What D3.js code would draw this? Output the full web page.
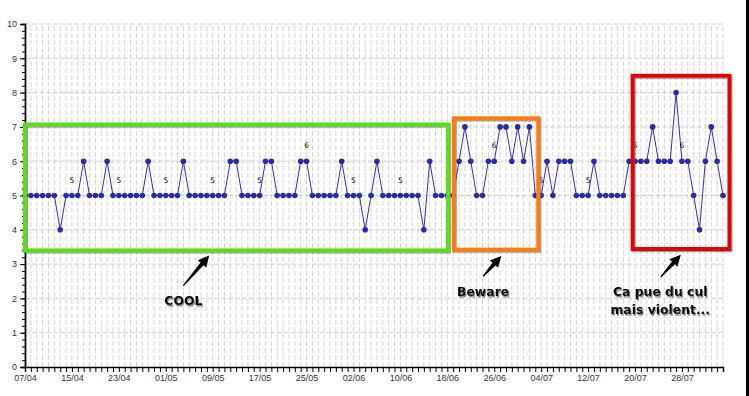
<!DOCTYPE html>
<html>
<head>
<meta charset="utf-8">
<script src="https://cdn.jsdelivr.net/npm/d3@7"></script>
<style>
body { margin: 0; background: #ffffff; }
</style>
</head>
<body>
<div class="chart"></div>
<script>
var w = 749;
var h = 396;

// daily values, starting 07/04
var startDay = new Date(2012, 3, 7);
var values = [
	5, 5, 5, 5, 5, 5, 4, 5, 5, 5, 6, 5, 5, 5, 6, 5, 5, 5, 5, 5,
	5, 6, 5, 5, 5, 5, 5, 6, 5, 5, 5, 5, 5, 5, 5, 6, 6, 5, 5, 5,
	5, 6, 6, 5, 5, 5, 5, 6, 6, 5, 5, 5, 5, 5, 6, 5, 5, 5, 4, 5,
	6, 5, 5, 5, 5, 5, 5, 5, 4, 6, 5, 5, 5, 5, 6, 7, 6, 5, 5, 6,
	6, 7, 7, 6, 7, 6, 7, 5, 5, 6, 5, 6, 6, 6, 5, 5, 5, 6, 5, 5,
	5, 5, 5, 6, 6, 6, 6, 7, 6, 6, 6, 8, 6, 6, 5, 4, 6, 7, 6, 5
];
var yTicks = [0, 1, 2, 3, 4, 5, 6, 7, 8, 9, 10];
var labelEvery = 8;

// annotation boxes, in days / values
var boxNames = ["cool", "beware", "violent"];
var boxDays = [[0, 72.1], [73.1, 87.5], [103.6, 120.1]];
var boxValues = [[3.4, 7.07], [3.42, 7.25], [3.44, 8.49]];
var boxColors = ["#5ade14", "#fb7d0a", "#e20505"];

var noteLines = [["COOL"], ["Beware"], ["Ca pue du cul", "mais violent..."]];
var noteDay = [27.0, 78.1, 108.3];
var noteValue = [1.81, 2.07, 2.07];
var arrowFrom = [[27.0, 2.37], [78.1, 2.64], [108.4, 2.63]];
var arrowTo = [[31.4, 3.25], [81.2, 3.24], [111.8, 3.27]];

var days = values.map(function(v, i) { return d3.timeDay.offset(startDay, i); });

var x = d3.scaleTime()
	.domain([days[0], days[days.length - 1]])
	.range([25, 723]);
var xd = d3.scaleLinear()
	.domain([0, values.length - 1])
	.range([25, 723]);
var y = d3.scaleLinear()
	.domain([0, 10])
	.range([367, 24]);

var svg = d3.select(".chart")
	.append("svg")
	.attr("width", w)
	.attr("height", h)
	.style("background", "#ffffff");

var defs = svg.append("defs");
var boxShadow = defs.append("filter").attr("id", "boxShadow")
	.attr("x", "-5%").attr("y", "-5%").attr("width", "110%").attr("height", "110%");
boxShadow.append("feDropShadow")
	.attr("dx", 1).attr("dy", 1.2).attr("stdDeviation", 0.6)
	.attr("flood-color", "#555").attr("flood-opacity", 0.6);
var textShadow = defs.append("filter").attr("id", "textShadow")
	.attr("x", "-10%").attr("y", "-20%").attr("width", "120%").attr("height", "150%");
textShadow.append("feDropShadow")
	.attr("dx", 1).attr("dy", 1.6).attr("stdDeviation", 0.7)
	.attr("flood-color", "#777").attr("flood-opacity", 0.9);

// grid
svg.append("g")
	.selectAll("line")
	.data(days)
	.join("line")
	.attr("x1", function(d) { return x(d); })
	.attr("x2", function(d) { return x(d); })
	.attr("y1", y(0))
	.attr("y2", y(10))
	.attr("stroke", "#d6d6d6")
	.attr("stroke-dasharray", "5,2");

svg.append("g")
	.selectAll("line")
	.data(yTicks.slice(1))
	.join("line")
	.attr("x1", x.range()[0])
	.attr("x2", x.range()[1])
	.attr("y1", function(d) { return y(d); })
	.attr("y2", function(d) { return y(d); })
	.attr("stroke", "#d2d2d2")
	.attr("stroke-dasharray", "5,2");

// axes
var fmt = d3.timeFormat("%d/%m");
var xAxis = svg.append("g")
	.attr("transform", "translate(0," + y(0) + ")")
	.call(d3.axisBottom(x)
		.tickValues(days)
		.tickSize(5)
		.tickPadding(3)
		.tickFormat(function(d, i) { return i % labelEvery == 0 ? fmt(d) : ""; }));

var yMinor = svg.append("g")
	.attr("transform", "translate(" + x.range()[0] + ",0)")
	.call(d3.axisLeft(y)
		.tickValues(d3.range(0, 50).map(function(i) { return i / 5; }))
		.tickSize(3)
		.tickFormat(""));

var yAxis = svg.append("g")
	.attr("transform", "translate(" + x.range()[0] + ",0)")
	.call(d3.axisLeft(y)
		.tickValues(yTicks)
		.tickSize(5)
		.tickPadding(3)
		.tickFormat(d3.format("d")));

[xAxis, yMinor, yAxis].forEach(function(a) {
	a.select(".domain").attr("stroke", "#000").attr("stroke-width", 1.4);
	a.selectAll(".tick line").attr("stroke", "#000");
	a.selectAll("text")
		.attr("font-family", "Liberation Sans, Arial, sans-serif")
		.attr("font-size", "9")
		.attr("fill", "#333");
});

// series
var line = d3.line()
	.x(function(d, i) { return xd(i); })
	.y(function(d) { return y(d); });

svg.append("path")
	.datum(values)
	.attr("d", line)
	.attr("fill", "none")
	.attr("stroke", "#3030b0")
	.attr("stroke-width", 1);

svg.append("g")
	.selectAll("circle")
	.data(values)
	.join("circle")
	.attr("cx", function(d, i) { return xd(i); })
	.attr("cy", function(d) { return y(d); })
	.attr("r", 2.8)
	.attr("fill", "#2a2aa8");

svg.append("g")
	.selectAll("text")
	.data(values.map(function(v, i) { return [i, v]; }).filter(function(p) { return p[0] % labelEvery == 0; }))
	.join("text")
	.attr("x", function(p) { return xd(p[0]); })
	.attr("y", function(p) { return y(p[1]) - 13; })
	.attr("text-anchor", "middle")
	.attr("font-family", "DejaVu Sans, sans-serif")
	.attr("font-size", "7.5")
	.attr("fill", "#000")
	.text(function(p) { return p[1]; });

// boxes
svg.append("g")
	.selectAll("rect")
	.data(boxNames)
	.join("rect")
	.attr("x", function(d, i) { return xd(boxDays[i][0]); })
	.attr("y", function(d, i) { return y(boxValues[i][1]); })
	.attr("width", function(d, i) { return xd(boxDays[i][1]) - xd(boxDays[i][0]); })
	.attr("height", function(d, i) { return y(boxValues[i][0]) - y(boxValues[i][1]); })
	.attr("fill", "none")
	.attr("stroke", function(d, i) { return boxColors[i]; })
	.attr("stroke-width", 4)
	.attr("filter", "url(#boxShadow)");

// arrows
function arrowPath(i) {
	var x0 = xd(arrowFrom[i][0]), y0 = y(arrowFrom[i][1]);
	var x1 = xd(arrowTo[i][0]), y1 = y(arrowTo[i][1]);
	var len = Math.sqrt((x1 - x0) * (x1 - x0) + (y1 - y0) * (y1 - y0));
	var ux = (x1 - x0) / len, uy = (y1 - y0) / len;
	var nx = -uy, ny = ux;
	var bx = x1 - ux * 11, by = y1 - uy * 11;
	var pts = [
		[x0 + nx * 0.6, y0 + ny * 0.6],
		[bx + nx * 2, by + ny * 2],
		[bx + nx * 5.5, by + ny * 5.5],
		[x1, y1],
		[bx - nx * 5.5, by - ny * 5.5],
		[bx - nx * 2, by - ny * 2],
		[x0 - nx * 0.6, y0 - ny * 0.6]
	];
	return "M" + pts.map(function(p) { return p[0].toFixed(1) + "," + p[1].toFixed(1); }).join("L") + "Z";
}

svg.append("g")
	.selectAll("path")
	.data(boxNames)
	.join("path")
	.attr("d", function(d, i) { return arrowPath(i); })
	.attr("fill", "#000");

// notes
var notes = svg.append("g")
	.selectAll("text")
	.data(boxNames)
	.join("text")
	.attr("x", function(d, i) { return xd(noteDay[i]); })
	.attr("y", function(d, i) { return y(noteValue[i]); })
	.attr("text-anchor", "middle")
	.attr("font-family", "DejaVu Sans, sans-serif")
	.attr("font-weight", "bold")
	.attr("font-size", "12.4")
	.attr("fill", "#000")
	.attr("filter", "url(#textShadow)");

notes.each(function(d, i) {
	d3.select(this).selectAll("tspan")
		.data(noteLines[i])
		.join("tspan")
		.attr("x", xd(noteDay[i]))
		.attr("dy", function(t, j) { return j == 0 ? 0 : 18; })
		.text(function(t) { return t; });
});

// frame edge on the right
svg.append("rect")
	.attr("x", 746)
	.attr("y", 0)
	.attr("width", 3)
	.attr("height", h)
	.attr("fill", "#000");
</script>
</body>
</html>
